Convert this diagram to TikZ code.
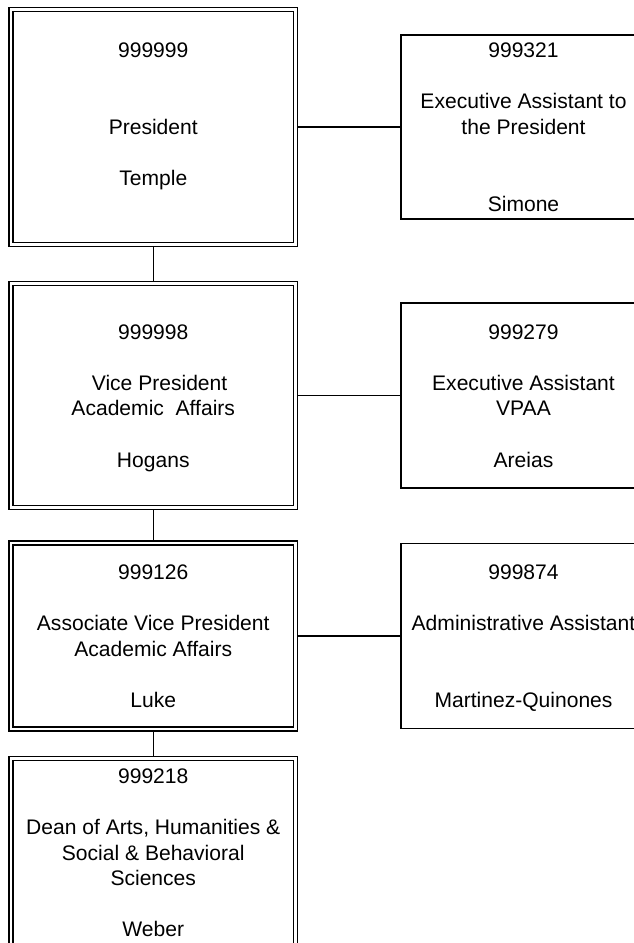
\documentclass[tikz,border=0pt]{standalone}
\usepackage{fontspec}
\setmainfont{Liberation Sans}
\usepackage{tikz}
\newcommand{\rowstrut}{\rule[-0.25em]{0pt}{1.22em}}
\tikzstyle{officer} = [
	rectangle,
	draw=black,
	line width=1pt,
	double,
	double distance=2pt,
	minimum width=213.4pt,
	inner sep=0pt,
	align=center,
	font=\fontsize{15.8}{19.2}\selectfont
]
\tikzstyle{aide} = [
	rectangle,
	draw=black,
	line width=1pt,
	minimum width=183.75pt,
	inner sep=0pt,
	align=center,
	font=\fontsize{15.8}{19.2}\selectfont
]
\tikzstyle{hlink} = [line width=1pt, shorten <=1.5pt]
\tikzstyle{vlink} = [hlink, shorten >=1.5pt]

\begin{document}
\begin{tikzpicture}[x=0.75pt, y=-0.75pt]
        \useasboundingbox (0,0) rectangle (634,943);
        \clip (0,0) rectangle (634,943);
        \node (pres) [officer, minimum height=176.25pt] at (153.25,127)
          {\rowstrut 999999\\ \\ \\President\\ \\Temple\\ \rowstrut};
        \node (vp) [officer, minimum height=168pt] at (153.25,395.5)
          {\rowstrut 999998\\ \\\hspace*{0.6em}Vice President\\Academic\ \ Affairs\\ \\Hogans\rowstrut};
        \node (avp) [officer, minimum height=139.5pt] at (153.25,636)
          {\rowstrut 999126\\ \\Associate Vice President\\Academic Affairs\\ \\Luke\rowstrut};
        \node (dean) [officer, minimum height=141pt] at (153.25,852.6)
          {\rowstrut 999218\\ \\Dean of Arts, Humanities \&\\Social \& Behavioral\\Sciences\\ \\Weber\rowstrut};
        \node (eapres) [aide, minimum height=138pt] at (523.5,127)
          {\rowstrut 999321\\ \\Executive Assistant to\\the President\\ \\ \\Simone\rowstrut};
        \node (eavpaa) [aide, minimum height=138.75pt] at (523.5,395.5)
          {\rowstrut 999279\\ \\Executive Assistant\\VPAA\\ \\Areias\rowstrut};
        \node (adminasst) [aide, minimum height=138.75pt] at (523.5,636)
          {\rowstrut 999874\\ \\Administrative Assistant\\ \\ \\Martinez-Quinones\rowstrut};
        \draw [vlink] (pres) -- (vp);
        \draw [vlink] (vp) -- (avp);
        \draw [vlink] (avp) -- (dean);
        \draw [hlink] (pres) -- (eapres);
        \draw [hlink] (vp) -- (eavpaa);
        \draw [hlink] (avp) -- (adminasst);
      \end{tikzpicture}
\end{document}
